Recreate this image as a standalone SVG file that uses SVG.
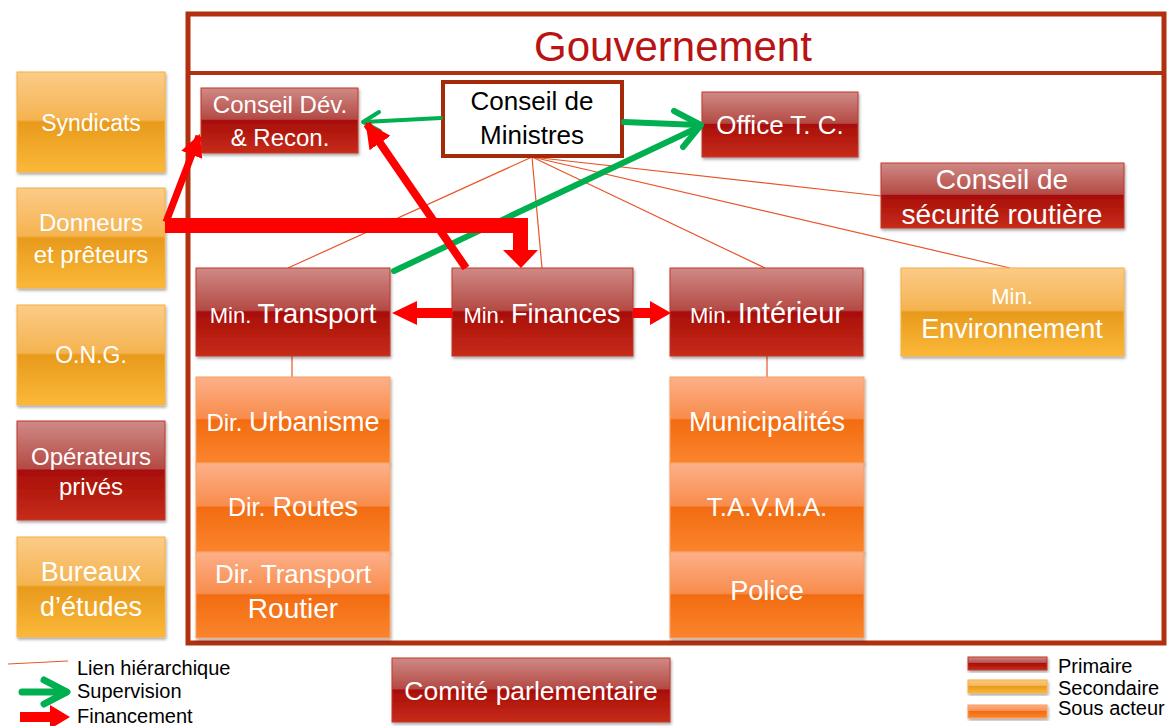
<svg xmlns="http://www.w3.org/2000/svg" width="1169" height="726" viewBox="0 0 1169 726">
<defs>
<linearGradient id="gP" x1="0" y1="0" x2="0" y2="1">
<stop offset="0" stop-color="#cf8a86"/><stop offset="0.48" stop-color="#b44a44"/><stop offset="0.5" stop-color="#a80e08"/><stop offset="1" stop-color="#c62c1a"/>
</linearGradient>
<linearGradient id="gS" x1="0" y1="0" x2="0" y2="1">
<stop offset="0" stop-color="#fccb88"/><stop offset="0.48" stop-color="#f4b350"/><stop offset="0.5" stop-color="#e89a1c"/><stop offset="1" stop-color="#fbb838"/>
</linearGradient>
<linearGradient id="gA" x1="0" y1="0" x2="0" y2="1">
<stop offset="0" stop-color="#fdb08a"/><stop offset="0.48" stop-color="#f88c4c"/><stop offset="0.5" stop-color="#f26c10"/><stop offset="1" stop-color="#fb842e"/>
</linearGradient>
<filter id="sh" x="-10%" y="-10%" width="120%" height="130%">
<feDropShadow dx="1" dy="2" stdDeviation="1.5" flood-color="#000" flood-opacity="0.35"/>
</filter>
<marker id="redHead" viewBox="0 0 10 10" refX="9" refY="5" markerWidth="3.2" markerHeight="3.2" orient="auto" markerUnits="strokeWidth">
<path d="M0,0 L10,5 L0,10 Z" fill="#ff0000"/>
</marker>
</defs>
<style>
text{font-family:"Liberation Sans",Arial,sans-serif;text-anchor:middle;fill:#fff}
.p{fill:url(#gP);stroke:#c0392b;stroke-width:1;filter:url(#sh)}
.s{fill:url(#gS);stroke:#f5b040;stroke-width:1;filter:url(#sh)}
.a{fill:url(#gA);stroke:#f8a060;stroke-width:1;filter:url(#sh)}
.t{font-size:24px}
.sm{font-size:21px}
.lg{font-size:27px}
.hier{stroke:#e8562a;stroke-width:1.2;fill:none}
.sup{stroke:#00b050;fill:none;stroke-linecap:round;stroke-linejoin:round}
.fin{stroke:#ff0000;fill:none}
.leg{fill:#000;text-anchor:start;font-size:20px}
</style>

<!-- Government frame -->
<g id="gouvernement">
<rect x="188" y="14" width="976" height="629" fill="#fff" stroke="#b0300f" stroke-width="5"/>
<line x1="188" y1="73" x2="1164" y2="73" stroke="#b0300f" stroke-width="4"/>
<text x="673" y="61" style="font-size:42px;fill:#b81414">Gouvernement</text>
</g>

<!-- hierarchical links (under nodes) -->
<g id="connectors-hier">
<line class="hier" x1="532" y1="157" x2="288" y2="268"/>
<line class="hier" x1="532" y1="157" x2="542" y2="268"/>
<line class="hier" x1="532" y1="157" x2="765" y2="268"/>
<line class="hier" x1="532" y1="157" x2="881" y2="196"/>
<line class="hier" x1="532" y1="157" x2="1010" y2="268"/>
<line class="hier" x1="292" y1="356" x2="292" y2="377"/>
<line class="hier" x1="767" y1="356" x2="767" y2="377"/>
</g>

<!-- Left nodes -->
<g id="syndicats"><rect class="s" x="17" y="72" width="148" height="100"/><text x="91" y="131" style="font-size:23px">Syndicats</text></g>
<g id="donneurs"><rect class="s" x="17" y="188" width="148" height="100"/><text class="t" x="91" y="231">Donneurs</text><text class="t" x="91" y="263">et prêteurs</text></g>
<g id="ong"><rect class="s" x="17" y="305" width="148" height="100"/><text x="91" y="363" style="font-size:23px">O.N.G.</text></g>
<g id="operateurs"><rect class="p" x="17" y="421" width="148" height="99"/><text class="t" x="91" y="465">Opérateurs</text><text class="t" x="91" y="495">privés</text></g>
<g id="bureaux"><rect class="s" x="17" y="537" width="148" height="100"/><text class="lg" x="91" y="581">Bureaux</text><text class="lg" x="91" y="616">d’études</text></g>

<!-- Top nodes -->
<g id="conseil-dev"><rect class="p" x="201" y="88" width="157" height="65"/><text class="t" x="280" y="113">Conseil Dév.</text><text class="t" x="280" y="146">&amp; Recon.</text></g>
<g id="conseil-ministres"><rect x="443" y="82" width="179" height="74" fill="#fff" stroke="#a52a0a" stroke-width="4"/><text x="532" y="110" style="fill:#000;font-size:26px">Conseil de</text><text x="532" y="144" style="fill:#000;font-size:26px">Ministres</text></g>
<g id="office-tc"><rect class="p" x="702" y="92" width="156" height="65"/><text x="780" y="134" style="font-size:26px">Office T. C.</text></g>
<g id="conseil-securite"><rect class="p" x="881" y="163" width="243" height="65"/><text x="1002" y="189" style="font-size:28px">Conseil de</text><text x="1002" y="224" style="font-size:28px">sécurité routière</text></g>

<!-- Ministries -->
<g id="min-transport"><rect class="p" x="196" y="268" width="194" height="88"/><text x="293" y="323"><tspan style="font-size:22px">Min. </tspan><tspan style="font-size:28px">Transport</tspan></text></g>
<g id="min-finances"><rect class="p" x="452" y="268" width="181" height="88"/><text x="542" y="323"><tspan style="font-size:22px">Min. </tspan><tspan style="font-size:27px">Finances</tspan></text></g>
<g id="min-interieur"><rect class="p" x="670" y="268" width="193" height="88"/><text x="767" y="323"><tspan style="font-size:22px">Min. </tspan><tspan style="font-size:29px">Intérieur</tspan></text></g>
<g id="min-environnement"><rect class="s" x="901" y="268" width="223" height="88"/><text x="1012" y="304" style="font-size:22px">Min.</text><text class="lg" x="1012" y="338">Environnement</text></g>

<!-- Sub actors -->
<g id="dir-urbanisme"><rect class="a" x="196" y="377" width="194" height="86"/><text x="293" y="431"><tspan style="font-size:24px">Dir. </tspan><tspan style="font-size:27px">Urbanisme</tspan></text></g>
<g id="dir-routes"><rect class="a" x="196" y="463" width="194" height="89"/><text x="293" y="516"><tspan style="font-size:25px">Dir. </tspan><tspan style="font-size:27px">Routes</tspan></text></g>
<g id="dir-transport-routier"><rect class="a" x="196" y="552" width="194" height="86"/><text x="293" y="583" style="font-size:26px">Dir. Transport</text><text x="293" y="618" style="font-size:28px">Routier</text></g>
<g id="municipalites"><rect class="a" x="670" y="377" width="194" height="86"/><text class="lg" x="767" y="431">Municipalités</text></g>
<g id="tavma"><rect class="a" x="670" y="463" width="194" height="89"/><text x="767" y="516" style="font-size:26px">T.A.V.M.A.</text></g>
<g id="police"><rect class="a" x="670" y="552" width="194" height="86"/><text class="lg" x="767" y="600">Police</text></g>

<!-- Comité -->
<g id="comite"><rect class="p" x="392" y="658" width="278" height="64"/><text x="531" y="700" style="font-size:26.5px">Comité parlementaire</text></g>

<!-- Supervision & financing connectors -->
<g id="connectors">
<line class="sup" x1="441" y1="118" x2="364" y2="122" stroke-width="4"/>
<path class="sup" d="M379,112 L363,122 L380,131" stroke-width="4"/>
<line class="sup" x1="624" y1="122" x2="699" y2="125" stroke-width="6"/>
<line class="sup" x1="394" y1="271" x2="699" y2="127" stroke-width="6"/>
<path class="sup" d="M674,111 L701,125 L683,147" stroke-width="6"/>
<line class="fin" x1="166" y1="222" x2="199" y2="136" stroke-width="7" marker-end="url(#redHead)"/>
<line class="fin" x1="466" y1="268" x2="367" y2="124" stroke-width="8" marker-end="url(#redHead)"/>
<path d="M165,218 H528 V250 H538 L521,268 L503,250 H513 V233 H165 Z" fill="#ff0000"/>
<path d="M452,308 H417 V301 L392,313 L417,325 V318 H452 Z" fill="#ff0000"/>
<path d="M633,308 H650 V301 L671,313 L650,325 V318 H633 Z" fill="#ff0000"/>
</g>

<!-- Legend -->
<g id="legende">
<line x1="8" y1="664" x2="68" y2="661" stroke="#e8562a" stroke-width="1.2"/>
<text class="leg" x="77" y="675">Lien hiérarchique</text>
<line x1="22" y1="692" x2="66" y2="692" stroke="#00b050" stroke-width="7" stroke-linecap="round"/>
<path d="M44,680 L67,692 L44,704" fill="none" stroke="#00b050" stroke-width="7" stroke-linecap="round" stroke-linejoin="round"/>
<text class="leg" x="77" y="698">Supervision</text>
<path d="M20,712 H50 V705 L70,717 L50,729 V722 H20 Z" fill="#ff0000"/>
<text class="leg" x="77" y="723">Financement</text>
<rect class="p" x="968" y="657" width="79" height="13"/>
<text class="leg" x="1058" y="673">Primaire</text>
<rect class="s" x="968" y="680" width="79" height="13"/>
<text class="leg" x="1058" y="695">Secondaire</text>
<rect class="a" x="968" y="705" width="79" height="13"/>
<text class="leg" x="1058" y="715">Sous acteur</text>
</g>
</svg>
